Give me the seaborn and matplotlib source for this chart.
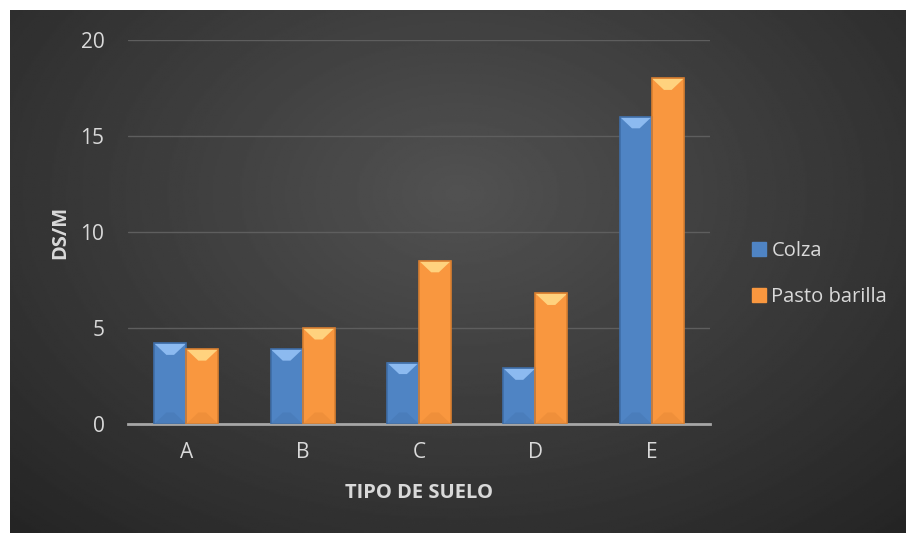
import numpy as np
import pandas as pd
import matplotlib
matplotlib.use("Agg")
import matplotlib.pyplot as plt
from matplotlib.patches import Polygon
import seaborn as sns

# data
suelos = ["A", "B", "C", "D", "E"]
colza = [4.2, 3.9, 3.2, 2.9, 16.0]
pasto_barilla = [3.9, 5.0, 8.5, 6.8, 18.0]

df = pd.DataFrame({
    "Tipo de suelo": suelos * 2,
    "DS/M": colza + pasto_barilla,
    "Cultivo": ["Colza"] * len(suelos) + ["Pasto barilla"] * len(suelos),
})

sns.set_theme(style="white")
plt.rcParams["font.family"] = ["Open Sans", "DejaVu Sans"]

txt = "#d9d9d9"
blue = "#4f84c4"
orange = "#f9973f"
light = {blue: "#8cbaf0", orange: "#ffd27e"}
dark = {blue: "#3f6ea8", orange: "#d97f30"}

fig = plt.figure(figsize=(9.06, 5.33), dpi=100)
fig.patch.set_facecolor("white")

# dark radial background of the chart area
bg = fig.add_axes([10 / 906, 0, 1 - 10 / 906, 1 - 10 / 533])
bg.set_axis_off()
yy, xx = np.mgrid[0:1:300j, 0:1:500j]
r = np.sqrt(((xx - 0.5) / 0.75) ** 2 + ((yy - 0.35) / 0.9) ** 2)
shade = 0.32 - 0.18 * np.clip(r, 0, 1)
bg.imshow(shade, cmap="gray", vmin=0, vmax=1, aspect="auto", extent=[0, 1, 1, 0])

ax = fig.add_axes([128 / 906, 1 - 424 / 533, (710 - 128) / 906, (424 - 40) / 533])
ax.patch.set_alpha(0)
sns.barplot(data=df, x="Tipo de suelo", y="DS/M", hue="Cultivo",
            palette=[blue, orange], width=0.55, saturation=1, ax=ax,
            edgecolor="none", legend=False)

# bevel effect on bars
for bar in ax.patches:
    fc = matplotlib.colors.to_hex(bar.get_facecolor())
    x0, y0 = bar.get_x(), bar.get_y()
    w, h = bar.get_width(), bar.get_height()
    bv = 0.6  # bevel depth in data units
    inset = w * 0.38
    ax.add_patch(Polygon([(x0, y0 + h), (x0 + w, y0 + h), (x0 + w - inset, y0 + h - bv),
                          (x0 + inset, y0 + h - bv)], closed=True,
                         facecolor=light.get(fc, fc), edgecolor="none", zorder=3))
    ax.add_patch(Polygon([(x0, y0), (x0 + w, y0), (x0 + w - inset, y0 + bv),
                          (x0 + inset, y0 + bv)], closed=True,
                         facecolor=dark.get(fc, fc), edgecolor="none", alpha=0.3, zorder=3))
    ax.add_patch(plt.Rectangle((x0, y0), w, h, facecolor="none",
                               edgecolor=dark.get(fc, fc), lw=1.2, zorder=4))

ax.set_ylim(0, 20)
ax.set_xlim(-0.5, 4.5)
ax.set_yticks([0, 5, 10, 15, 20])
ax.yaxis.grid(True, color="#5e5e5e", lw=1)
ax.set_axisbelow(True)
for s in ["top", "right", "left"]:
    ax.spines[s].set_visible(False)
ax.spines["bottom"].set_color("#a6a6a6")
ax.spines["bottom"].set_linewidth(2)
ax.tick_params(axis="both", length=0, labelsize=15, labelcolor=txt)
ax.tick_params(axis="y", pad=17)
ax.tick_params(axis="x", pad=13)
ax.set_xlabel("TIPO DE SUELO", fontsize=14.5, fontweight="bold", color=txt, labelpad=14)
ax.set_ylabel("DS/M", fontsize=14.5, fontweight="bold", color=txt, labelpad=7)

handles = [plt.Line2D([], [], marker="s", ls="none", markersize=10, color=c) for c in (blue, orange)]
leg = fig.legend(handles, ["Colza", "Pasto barilla"], loc="center left",
                 bbox_to_anchor=(731 / 906, 1 - 274 / 533), frameon=False,
                 fontsize=14.5, labelspacing=1.3, handletextpad=0.1, handlelength=1.0)
for t in leg.get_texts():
    t.set_color(txt)

fig.savefig("out.png", dpi=100, facecolor=fig.get_facecolor())
